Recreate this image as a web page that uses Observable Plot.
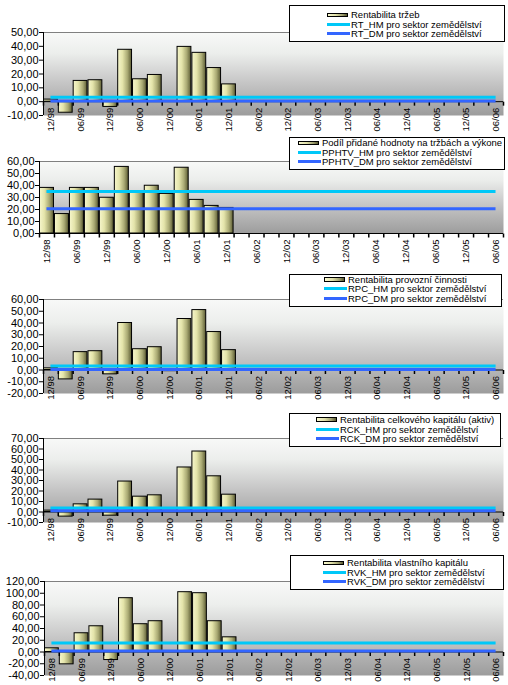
<!DOCTYPE html>
<html>
<head>
<meta charset="utf-8">
<script src="https://cdn.jsdelivr.net/npm/d3@7"></script>
<script src="https://cdn.jsdelivr.net/npm/@observablehq/plot@0.6"></script>
<style>
  html, body { margin: 0; padding: 0; background: #fff; }
  #root { position: relative; width: 508px; height: 685px; overflow: hidden;
          font-family: "Liberation Sans", Arial, sans-serif; }
  .panel { position: absolute; left: 0; z-index: 1; }
  .legend { position: absolute; background: #fff; border: 1px solid #000; box-sizing: border-box;
            z-index: 5; font-size: 9.5px; color: #000; }
  .row { position: absolute; height: 9px; line-height: 9px; white-space: nowrap; }
  .sw-bar { position: absolute; left: 0; top: 2.5px; width: 21px; height: 4.5px; box-sizing: border-box;
            border: 1px solid #000; background: linear-gradient(to right, #f8f8d0, #e0e0a8 40%, #a0a070 75%, #585830); }
  .sw-line { position: absolute; left: 0; top: 3px; width: 23px; height: 3px; }
  .lbl { position: absolute; left: 24px; top: 0; display: block; height: 9px; line-height: 9px; overflow: visible; }
</style>
</head>
<body>
<div id="root">
  <svg width="0" height="0" style="position:absolute">
    <defs>
      <linearGradient id="bgGrad" x1="0" y1="0" x2="0" y2="1">
        <stop offset="0" stop-color="#f8f9f8"/>
        <stop offset="0.25" stop-color="#eceeec"/>
        <stop offset="0.6" stop-color="#c6c6c6"/>
        <stop offset="1" stop-color="#9c9c9c"/>
      </linearGradient>
      <linearGradient id="barGrad" x1="0" y1="0" x2="1" y2="0">
        <stop offset="0" stop-color="#f6f6cc"/>
        <stop offset="0.35" stop-color="#e4e4aa"/>
        <stop offset="0.7" stop-color="#aaaa74"/>
        <stop offset="1" stop-color="#5c5c34"/>
      </linearGradient>
    </defs>
  </svg>
</div>
<script>
// ---- categories (quarters) ----
const quarters = ["12/98","03/99","06/99","09/99","12/99","03/00","06/00","09/00","12/00",
  "03/01","06/01","09/01","12/01","03/02","06/02","09/02","12/02","03/03","06/03","09/03",
  "12/03","03/04","06/04","09/04","12/04","03/05","06/05","09/05","12/05","03/06","06/06"];

// ---- series values (12/98 .. 12/01) ----
const rtValues    = [1.5, -8, 15, 15.5, -3.8, 37.5, 16.2, 19.3, 0, 39.6, 35.3, 24.3, 12.5];
const rtHM = 3.2, rtDM = 0.4;
const pphtvValues = [38, 16.2, 38, 38, 29.8, 55.5, 35, 39.8, 33, 54.8, 28, 23, 21.3];
const pphtvHM = 34.9, pphtvDM = 20.7;
const rpcValues   = [1.4, -8, 15.2, 16, -3.7, 40, 17.7, 19.4, -1, 43.4, 51, 32.3, 16.9];
const rpcHM = 3.4, rpcDM = 0.4;
const rckValues   = [1.3, -4.4, 7.3, 11.8, -3.5, 29, 14.6, 15.9, 0, 42.4, 57.6, 34, 16.5];
const rckHM = 3.8, rckDM = 1.3;
const rvkValues   = [6.3, -21, 31.9, 43.8, -13.7, 91.6, 47.3, 52.4, 0, 101.8, 100.1, 52.4, 25];
const rvkHM = 15.4, rvkDM = 1.7;

// ---- legend texts ----
const rtNames    = ["Rentabilita tržeb", "RT_HM pro sektor zemědělství", "RT_DM pro sektor zemědělství"];
const pphtvNames = ["Podíl přidané hodnoty na tržbách a výkone", "PPHTV_HM pro sektor zemědělství", "PPHTV_DM pro sektor zemědělství"];
const rpcNames   = ["Rentabilita provozní činnosti", "RPC_HM pro sektor zemědělství", "RPC_DM pro sektor zemědělství"];
const rckNames   = ["Rentabilita celkového kapitálu (aktiv)", "RCK_HM pro sektor zemědělství", "RCK_DM pro sektor zemědělství"];
const rvkNames   = ["Rentabilita vlastního kapitálu", "RVK_HM pro sektor zemědělství", "RVK_DM pro sektor zemědělství"];

// ---- y axis ranges [min, max, step] ----
const rtRange = [-10, 50, 10];
const pphtvRange = [0, 60, 10];
const rpcRange = [-20, 60, 10];
const rckRange = [-10, 70, 10];
const rvkRange = [-40, 120, 20];

const HM_COLOR = "#00c8f8", DM_COLOR = "#3366ff";
const W = 508, RIGHT = 503;
const czFormat = d3.formatLocale({decimal: ",", thousands: " ", grouping: [3], currency: ["", ""], minus: "-"}).format(".2f");

const panels = [
  {values: rtValues, hm: rtHM, dm: rtDM, names: rtNames, range: rtRange,
   frame: {top: 32, bottom: 115, left: 43},
   legend: {x: 289, y: 5, w: 216, h: 37, sx: 37, rows: [8.5, 18, 27.5]}},
  {values: pphtvValues, hm: pphtvHM, dm: pphtvDM, names: pphtvNames, range: pphtvRange,
   frame: {top: 161, bottom: 233, left: 39},
   legend: {x: 289, y: 137, w: 216, h: 33, sx: 8, rows: [4.5, 14, 23.5]}},
  {values: rpcValues, hm: rpcHM, dm: rpcDM, names: rpcNames, range: rpcRange,
   frame: {top: 299, bottom: 393, left: 43},
   legend: {x: 289, y: 274, w: 213, h: 33, sx: 34, rows: [4, 13.5, 23]}},
  {values: rckValues, hm: rckHM, dm: rckDM, names: rckNames, range: rckRange,
   frame: {top: 438, bottom: 522, left: 43},
   legend: {x: 289, y: 413, w: 212, h: 34, sx: 26, rows: [5, 15, 24.5]}},
  {values: rvkValues, hm: rvkHM, dm: rvkDM, names: rvkNames, range: rvkRange,
   frame: {top: 581, bottom: 675, left: 44},
   legend: {x: 290, y: 555, w: 214, h: 35, sx: 32, rows: [6.5, 16, 25.5]}}
];

const root = document.getElementById("root");
const n = quarters.length;
const boundaries = d3.range(n + 1);
const labelIdx = quarters.map((q, i) => i).filter(i => i % 2 === 0);
const tickSymbol = {draw(ctx) { ctx.moveTo(0, 0); ctx.lineTo(0, 4); }};

panels.forEach(p => {
  const [yMin, yMax, step] = p.range;
  const mt = 8, mb = 32;
  const h = p.frame.bottom - p.frame.top + mt + mb;
  const data = p.values.map((v, i) => ({q: quarters[i], i, v}));
  const chart = Plot.plot({
    width: W, height: h,
    marginTop: mt, marginBottom: mb, marginLeft: p.frame.left, marginRight: W - RIGHT,
    style: {fontFamily: "'Liberation Sans', Arial, sans-serif", fontSize: "11px", background: "transparent", overflow: "visible", color: "#000"},
    x: {domain: [0, n], axis: null},
    y: {domain: [yMin, yMax], axis: null},
    marks: [
      Plot.frame({fill: "url(#bgGrad)", stroke: null}),
      Plot.ruleY([yMax], {stroke: "#808080"}),
      Plot.axisY({ticks: d3.range(yMin, yMax + step / 2, step), tickFormat: czFormat, label: null, tickSize: 4, tickPadding: 1, stroke: "#000", fill: "#000", fontSize: 11}),
      Plot.rectY(data, {x1: "i", x2: d => d.i + 1, y1: 0, y2: "v", insetLeft: 0.5, insetRight: 0.5, fill: "url(#barGrad)", stroke: "#000", strokeWidth: 1}),
      Plot.ruleY([0], {stroke: "#000"}),
      Plot.ruleX([0], {stroke: "#000"}),
      Plot.dot(boundaries, {x: d => d, y: 0, symbol: tickSymbol, stroke: "#000", fill: "none", r: 2}),
      Plot.text(labelIdx, {x: i => i + 0.5, y: 0, text: i => quarters[i], rotate: -90, textAnchor: "end", dy: 6, fontSize: 9.5, fill: "#000"}),
      Plot.ruleY([p.hm], {x1: 0.5, x2: n - 0.5, stroke: HM_COLOR, strokeWidth: 3}),
      Plot.ruleY([p.dm], {x1: 0.5, x2: n - 0.5, stroke: DM_COLOR, strokeWidth: 3})
    ]
  });
  const wrap = document.createElement("div");
  wrap.className = "panel";
  wrap.style.top = (p.frame.top - mt) + "px";
  wrap.appendChild(chart);
  root.appendChild(wrap);

  // legend
  const L = p.legend;
  const box = document.createElement("div");
  box.className = "legend";
  Object.assign(box.style, {left: L.x + "px", top: L.y + "px", width: L.w + "px", height: L.h + "px"});
  p.names.forEach((name, k) => {
    const row = document.createElement("div");
    row.className = "row";
    row.style.left = L.sx + "px";
    row.style.top = (L.rows[k] - 4.5) + "px";
    const sw = document.createElement("div");
    if (k === 0) sw.className = "sw-bar";
    else { sw.className = "sw-line"; sw.style.background = k === 1 ? HM_COLOR : DM_COLOR; }
    const t = document.createElement("span");
    t.className = "lbl";
    t.textContent = name;
    row.appendChild(sw); row.appendChild(t);
    box.appendChild(row);
  });
  root.appendChild(box);
});
</script>
</body>
</html>
